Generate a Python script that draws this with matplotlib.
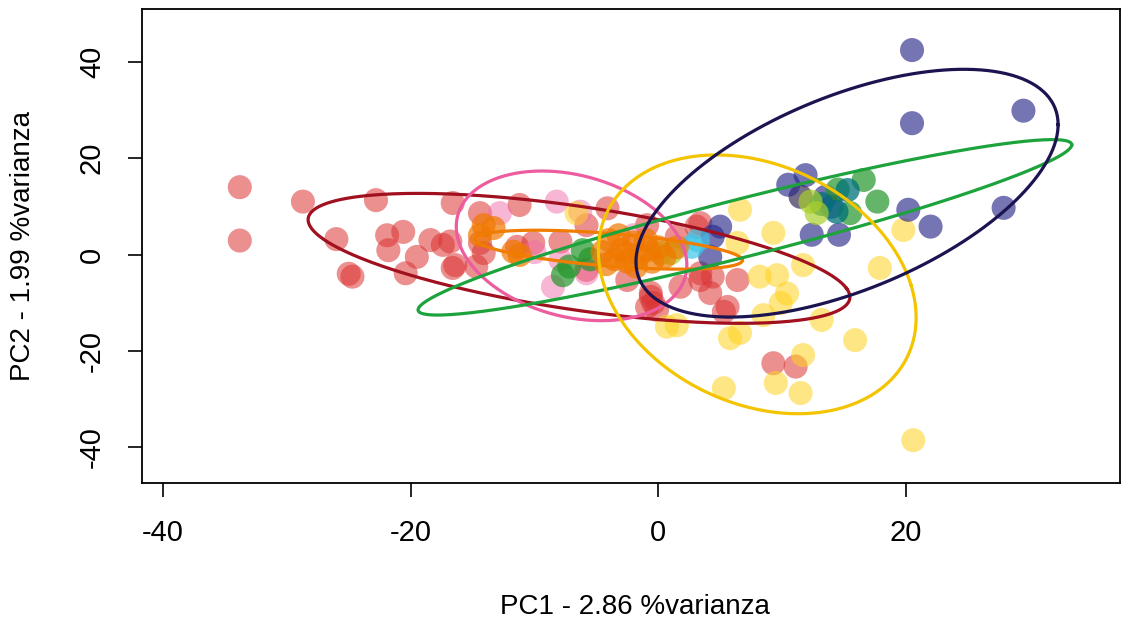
import numpy as np
import matplotlib
matplotlib.use("Agg")
import matplotlib.pyplot as plt

plt.rcParams['font.family'] = ['Liberation Sans', 'DejaVu Sans']
plt.rcParams['axes.unicode_minus'] = False

# scores, one pair of lists per group
red_x = [-33.8, -33.8, -28.7, -22.8, -26.0, -24.7, -25.0, -21.9, -20.6, -21.8, -19.5, -20.4,
         -18.4, -17.4, -16.6, -16.6, -14.4, -11.2, -16.8, -16.4, -14.4, -14.1, -14.7, -11.4,
         -10.1, -7.9, -5.8, -4.1, -5.8, -0.6, -0.4, 1.8, 4.2, 5.6, 6.4, 3.1, 4.4, 5.3, -0.9,
         -0.1, 9.3, 11.1, -2.5, 3.4, 3.4, -0.9, 1.5, 3.4, -0.6]
red_y = [14.0, 2.9, 11.0, 11.3, 3.2, -4.6, -4.0, 4.0, 4.7, 0.9, -0.5, -3.9,
         3.0, 2.0, -2.8, 10.7, 8.6, 10.3, 2.7, -2.2, 2.4, 0.3, -2.5, 1.6,
         2.4, 2.7, 6.1, 9.6, -3.2, -8.0, -10.1, -6.7, -8.0, -10.9, -5.3, 5.8, -4.6, -11.9, -10.9,
         -11.5, -22.6, -23.3, -5.3, -3.9, 6.5, 6.1, 3.7, -5.3, -8.8]

pink_x = [-12.8, -8.2, -6.3, -8.5, -7.9, -5.8, -10.0, -2.0]
pink_y = [8.6, 11.0, 8.9, -6.7, -1.1, -3.9, 0.5, 4.0]

orange_x = [-14.1, -13.3, -11.7, -11.2, -14.4, -4.0, -3.0, -2.5, -2.0, -1.5, -1.0, -0.5,
            0.0, 0.5, -3.5, -4.5, 1.5, -3.2, -1.8, -0.8, -4.2, -2.6]
orange_y = [6.1, 5.5, 0.6, -0.1, 4.0, 3.0, 1.0, -1.5, 2.5, 0.0, 3.0, -1.5,
            1.5, -0.5, -1.0, 0.5, 1.5, 4.0, -2.5, 1.0, -2.0, 0.2]

green_x = [-7.7, -7.2, -6.1, -5.5, 16.6, 17.7, 15.5, 14.5]
green_y = [-4.3, -2.5, 0.9, -1.0, 15.5, 11.0, 8.6, 13.5]

yellow_x = [8.2, 9.6, 10.4, 9.9, 8.5, 11.7, 17.9, 13.2, 15.9, 1.5, 0.7, 5.8, 6.6, 11.7,
            9.5, 11.5, 5.3, 20.6, 6.6, 9.3, 19.8, 6.4, 11.5, -6.6]
yellow_y = [-4.6, -4.3, -8.1, -10.1, -12.6, -2.2, -2.8, -13.6, -17.8, -14.7, -15.0, -17.4,
            -16.3, -20.9, -26.7, -28.8, -27.8, -38.6, 9.3, 4.5, 5.1, 2.4, 12.1, 8.6]

navy_x = [20.5, 20.5, 29.5, 27.9, 20.2, 22.0, 11.9, 11.5, 13.5, 14.0, 12.4, 14.6, 5.0, 4.4, 4.2, 10.5]
navy_y = [42.5, 27.3, 29.9, 9.7, 9.3, 5.8, 16.5, 12.0, 12.0, 9.9, 4.1, 4.1, 5.8, 3.7, -0.5, 14.5]

teal_x = [15.3, 14.4, 13.2]
teal_y = [13.4, 8.9, 10.5]

lime_x = [0.2, 1.0, 12.8, 12.3]
lime_y = [0.3, 0.3, 8.6, 11.0]

cyan_x = [3.2, 2.7]
cyan_y = [3.0, 1.6]

# ellipses: centre and two conjugate half-axes (data units)
ell_names = ['red', 'pink', 'orange', 'green', 'yellow', 'navy']
ell_cx = [-6.4, -7.0, -4.0, 7.0, 8.0, 15.25]
ell_cy = [-0.8, 1.8, 1.0, 5.65, -6.2, 12.75]
ell_ux = [21.6, 9.3, 10.8, 26.4, 12.4, 17.05]
ell_uy = [-6.2, -4.8, -2.2, 17.15, 0.0, 14.25]
ell_vx = [-3.5, 0.5, 0.0, 0.0, -3.3, 0.0]
ell_vy = [12.0, 14.8, 3.4, 6.2, 26.9, 21.45]

point_groups = [
    (red_x, red_y, '#DC3333', 0.55),
    (pink_x, pink_y, '#F06EA9', 0.5),
    (yellow_x, yellow_y, '#FFD21F', 0.55),
    (navy_x, navy_y, '#2B2B8C', 0.65),
    (green_x, green_y, '#23962A', 0.7),
    (teal_x, teal_y, '#00727A', 0.75),
    (lime_x, lime_y, '#A8CF2A', 0.7),
    (cyan_x, cyan_y, '#3EC6E8', 0.7),
    (orange_x, orange_y, '#F07800', 0.7),
]
ell_colors = {'red': '#A0101E', 'pink': '#EC5C9E', 'orange': '#F07D00',
              'green': '#1DA33C', 'yellow': '#F4C400', 'navy': '#1B1450'}

W, H = 1134, 620
fig = plt.figure(figsize=(W / 100, H / 100), dpi=100)
ax = fig.add_axes([142 / W, (H - 483) / H, (1120 - 142) / W, (483 - 8.7) / H])

for xs, ys, col, a in point_groups:
    ax.scatter(xs, ys, s=300, color=col, alpha=a, edgecolors='none', zorder=2)

t = np.linspace(0, 2 * np.pi, 300)
for i, name in enumerate(ell_names):
    ex = ell_cx[i] + ell_ux[i] * np.cos(t) + ell_vx[i] * np.sin(t)
    ey = ell_cy[i] + ell_uy[i] * np.cos(t) + ell_vy[i] * np.sin(t)
    ax.plot(ex, ey, color=ell_colors[name], lw=2.3, zorder=3)

ax.set_xlim(-41.7, 37.3)
ax.set_ylim(-47.5, 51.1)
ax.set_xticks([-40, -20, 0, 20])
ax.set_yticks([-40, -20, 0, 20, 40])
for sp in ax.spines.values():
    sp.set_linewidth(1.3)
ax.tick_params(direction='out', length=10, width=1.2, labelsize=21, pad=16)
for lab in ax.get_yticklabels():
    lab.set_rotation(90)
    lab.set_va('center')

fig.text(0.560, 0.021, 'PC1 - 2.86 %varianza', ha='center', va='center', fontsize=20)
fig.text(0.0203, 0.6034, 'PC2 - 1.99 %varianza', ha='center', va='center', rotation=90, fontsize=20)

fig.savefig('out.png', dpi=100)
